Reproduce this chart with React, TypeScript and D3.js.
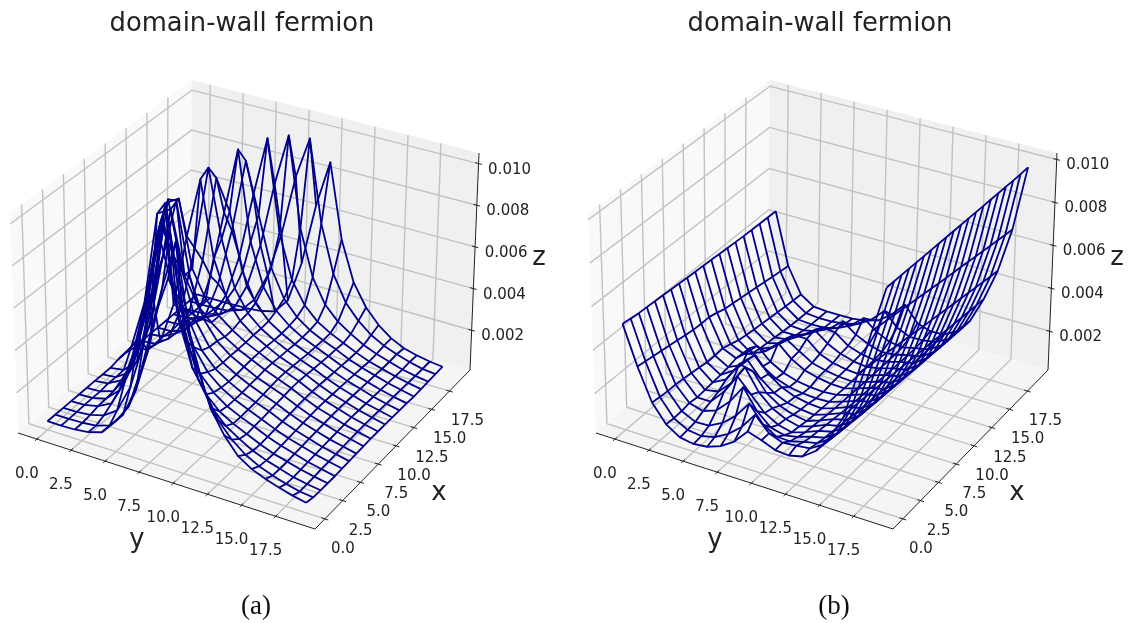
import * as d3 from 'd3';

// axis ticks, shared by both panels
const gridTicks = [0, 2.5, 5, 7.5, 10, 12.5, 15, 17.5];
const zTicks = [0.002, 0.004, 0.006, 0.008, 0.01];
const gridIndex = d3.range(20);
const zUnit = 1e-5;

// panel (a): height, one list per x index, y index 0..19
const heightsA = [
  [50,50,52,60,80,150,240,440,700,900,760,540,350,245,170,130,105,85,68,55],
  [50,50,52,59,80,150,289,508,806,1040,612,386,264,194,144,111,88,69,54,47],
  [50,51,57,75,119,249,468,786,1040,604,385,269,206,165,130,105,86,67,55,46],
  [50,53,67,100,219,428,747,1040,598,387,282,221,184,155,127,103,86,69,56,45],
  [50,54,70,129,308,587,944,700,460,328,258,213,183,158,129,107,89,71,58,44],
  [50,53,75,160,379,706,1040,600,400,303,249,212,185,159,132,109,91,73,59,46],
  [51,59,95,219,488,905,760,488,354,286,245,212,186,163,135,112,93,74,60,47],
  [50,57,100,269,578,986,660,440,338,283,246,216,190,166,138,114,95,76,62,48],
  [50,60,119,318,667,950,598,420,334,284,250,218,194,170,141,116,97,78,63,49],
  [59,140,370,820,860,560,432,371,322,282,252,222,198,173,143,118,99,79,64,50],
  [59,151,385,840,880,560,432,371,322,282,252,222,198,173,143,118,99,79,64,50],
  [50,60,119,318,667,960,598,420,334,284,250,218,194,170,141,116,97,78,63,49],
  [50,57,100,269,578,986,660,440,338,283,246,216,190,166,138,114,95,76,62,48],
  [51,59,95,219,488,905,760,488,354,286,245,212,186,163,135,112,93,74,60,47],
  [50,53,75,160,379,706,1030,600,400,303,249,212,185,159,132,109,91,73,59,46],
  [50,54,70,129,308,587,944,700,460,328,258,213,183,158,129,107,89,71,58,44],
  [50,53,67,100,219,428,747,1040,598,387,282,221,184,155,127,103,86,69,56,45],
  [50,51,57,75,119,249,468,786,1040,604,385,269,206,165,130,105,86,67,55,46],
  [50,50,52,59,80,150,289,508,806,1010,612,386,264,194,144,111,88,69,54,47],
  [50,50,50,51,54,61,78,151,352,652,880,520,329,225,158,112,82,66,55,48],
];

// panel (b)
const heightsB = [
  [507,330,185,105,65,55,62,85,125,190,170,145,140,155,200,280,390,600,810,1020],
  [502,324,180,102,68,60,75,109,160,235,170,147,153,160,196,266,396,593,803,1018],
  [497,318,176,104,74,76,108,160,235,160,123,122,138,152,191,262,391,586,796,1016],
  [495,312,176,110,92,115,175,260,170,115,98,110,130,145,185,258,387,580,790,1014],
  [492,306,172,105,105,170,260,195,130,95,80,100,125,140,180,254,383,573,783,1012],
  [490,300,167,108,120,180,270,175,120,90,75,95,120,135,176,250,379,566,776,1010],
  [487,293,162,112,145,235,220,140,100,78,68,90,115,130,171,246,375,559,769,1008],
  [485,287,155,115,155,225,155,108,82,70,64,85,110,125,167,242,370,552,762,1006],
  [482,285,155,120,150,215,145,103,78,66,62,82,106,120,163,238,366,545,755,1004],
  [480,285,158,130,195,130,92,72,62,57,60,80,102,117,160,234,362,538,748,1002],
  [477,275,146,118,175,120,86,68,58,55,60,78,100,114,157,230,358,532,741,1000],
  [475,262,133,88,118,175,120,86,70,60,58,76,97,110,153,226,354,525,734,998],
  [472,257,126,80,105,165,125,88,72,62,58,74,94,107,150,222,350,518,728,996],
  [470,251,120,75,92,150,150,98,74,63,58,72,92,104,147,218,345,511,721,994],
  [467,245,116,70,78,115,160,115,85,68,60,72,90,102,144,215,341,504,714,992],
  [465,239,111,65,66,92,140,135,90,70,60,70,88,100,141,211,337,497,707,990],
  [463,232,106,61,57,72,102,155,110,82,65,70,86,98,138,207,332,490,700,988],
  [462,226,102,58,53,56,72,102,155,110,80,72,86,98,135,204,328,483,693,986],
  [461,220,98,56,51,52,60,78,115,175,115,88,90,100,133,202,324,476,686,985],
  [460,214,95,55,50,50,52,60,80,125,190,120,100,102,135,200,320,470,680,985],
];

// pixel corners of the pane box, [first, second, height] axis low/high
const boxX = [[[18, 10], [190, 192]], [[315, 318], [470, 479]]];
const boxY = [[[433, 213], [288, 80]], [[529, 300], [370, 153]]];
const PANE = 1 / 48;
const lo = -PANE;
const hi = 1 + PANE;
const unit = d3.scaleLinear().domain([lo, hi]).range([0, 1]);

function trilinear(box: number[][][], a: number, b: number, c: number) {
  const [s, t, w] = [unit(a), unit(b), unit(c)];
  const edge = (k: number) => d3.interpolateNumber(box[k][0][0] + (box[k][1][0] - box[k][0][0]) * t, box[k][0][1] + (box[k][1][1] - box[k][0][1]) * t)(w);
  return edge(0) + (edge(1) - edge(0)) * s;
}
const screen = (a: number, b: number, c: number) => [trilinear(boxX, a, b, c), trilinear(boxY, a, b, c)] as [number, number];
const world = d3.scaleLinear().domain([-0.95, 19.95]).range([0, 1]);
const path = d3.line();

function Panel({ heights, zDomain, dx, tag }: { heights: number[][]; zDomain: number[]; dx: number; tag: string }) {
  const wz = d3.scaleLinear().domain(zDomain).range([0, 1]);
  const poly = (pts: number[][]) => path(pts.map((q) => screen(q[0], q[1], q[2]))) as string;
  const axisColor = '#222';
  return (
    <g transform={`translate(${dx},0)`}>
      <path d={poly([[lo,lo,lo],[lo,hi,lo],[lo,hi,hi],[lo,lo,hi]]) + 'Z'} fill="#f9f9f9" />
      <path d={poly([[lo,hi,lo],[hi,hi,lo],[hi,hi,hi],[lo,hi,hi]]) + 'Z'} fill="#f0f0f0" />
      <path d={poly([[lo,lo,lo],[hi,lo,lo],[hi,hi,lo],[lo,hi,lo]]) + 'Z'} fill="#f5f5f5" />
      <g fill="none" stroke="#c2c2c2" strokeWidth={1.4}>
        {gridTicks.map((t) => (
          <path key={'gy' + t} d={poly([[world(t),lo,lo],[world(t),hi,lo],[world(t),hi,hi]])} />
        ))}
        {gridTicks.map((t) => (
          <path key={'gx' + t} d={poly([[hi,world(t),lo],[lo,world(t),lo],[lo,world(t),hi]])} />
        ))}
        {zTicks.map((t) => (
          <path key={'gz' + t} d={poly([[lo,lo,wz(t)],[lo,hi,wz(t)],[hi,hi,wz(t)]])} />
        ))}
      </g>
      <g fill="none" stroke={axisColor} strokeWidth={1}>
        <path d={poly([[lo,lo,lo],[hi,lo,lo],[hi,hi,lo]])} />
        <path d={poly([[hi,hi,lo],[hi,hi,hi]])} />
        {gridTicks.map((t) => (
          <path key={'ty' + t} d={poly([[world(t),lo - 0.012,lo],[world(t),lo + 0.012,lo]])} />
        ))}
        {gridTicks.map((t) => (
          <path key={'tx' + t} d={poly([[hi - 0.012,world(t),lo],[hi + 0.012,world(t),lo]])} />
        ))}
        {zTicks.map((t) => (
          <path key={'tz' + t} d={poly([[hi - 0.012,hi,wz(t)],[hi + 0.012,hi,wz(t)]])} />
        ))}
      </g>
      <g fill="none" stroke="#00008b" strokeWidth={1.8} strokeLinejoin="round">
        {gridIndex.map((j) => (
          <path key={'c' + j} d={path(heights[j].map((z, i) => screen(world(i), world(j), wz(z * zUnit)))) as string} />
        ))}
        {gridIndex.map((i) => (
          <path key={'r' + i} d={path(heights.map((col, j) => screen(world(i), world(j), wz(col[i] * zUnit)))) as string} />
        ))}
      </g>
      <g fontFamily="'DejaVu Sans'" fontSize={15} fill="#222" textAnchor="middle">
        {gridTicks.map((t) => {
          const s = screen(world(t), lo, lo);
          return <text key={'ly' + t} x={s[0] - 10} y={s[1] + 39}>{t.toFixed(1)}</text>;
        })}
        {gridTicks.map((t) => {
          const s = screen(hi, world(t), lo);
          return <text key={'lx' + t} x={s[0] + 18} y={s[1] + 34}>{t.toFixed(1)}</text>;
        })}
        {zTicks.map((t) => {
          const s = screen(hi, hi, wz(t));
          return <text key={'lz' + t} x={s[0] + 31} y={s[1] + 10}>{t.toFixed(3)}</text>;
        })}
      </g>
      <g fontFamily="'DejaVu Sans'" fontSize={25.8} fill="#222" textAnchor="middle">
        <text x={137} y={547}>y</text>
        <text x={439} y={500}>x</text>
        <text x={539} y={265}>z</text>
        <text x={242} y={31}>domain-wall fermion</text>
      </g>
      <text x={256} y={614} fontFamily="'Liberation Serif'" fontSize={27} fill="#111" textAnchor="middle">{tag}</text>
    </g>
  );
}

export default function App() {
  return (
    <svg width={1134} height={623} style={{ position: 'absolute', left: 0, top: 0 }}>
      <defs>
        <filter id="soft" x="0" y="0" width="100%" height="100%">
          <feGaussianBlur stdDeviation="0.45" />
        </filter>
      </defs>
      <g filter="url(#soft)">
        <Panel heights={heightsA} zDomain={[0.0003, 0.0103]} dx={0} tag="(a)" />
        <Panel heights={heightsB} zDomain={[0.0004, 0.0101]} dx={578} tag="(b)" />
      </g>
    </svg>
  );
}
